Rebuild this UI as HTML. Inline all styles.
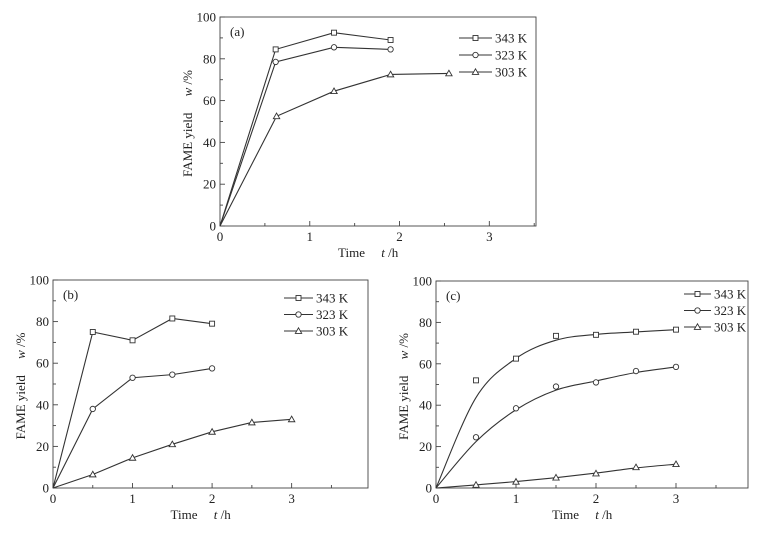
<!DOCTYPE html>
<html><head><meta charset="utf-8">
<style>
html,body{margin:0;padding:0;background:#fff;}
svg text{font-family:"Liberation Serif",serif;font-size:13px;fill:#222;}
</style></head>
<body>
<svg id="fig" width="768" height="532" viewBox="0 0 768 532" xmlns="http://www.w3.org/2000/svg"></svg>
<script>
const seriesLabels = ["343 K","323 K","303 K"];
const aX343 = [0,0.62,1.27,1.9];
const aY343 = [0,84.5,92.5,89];
const aX323 = [0,0.62,1.27,1.9];
const aY323 = [0,78.5,85.5,84.5];
const aX303 = [0,0.63,1.27,1.9,2.55];
const aY303 = [0,52.5,64.5,72.5,73];
const bX343 = [0,0.5,1,1.5,2];
const bY343 = [0,75,71,81.5,79];
const bX323 = [0,0.5,1,1.5,2];
const bY323 = [0,38,53,54.5,57.5];
const bX303 = [0,0.5,1,1.5,2,2.5,3];
const bY303 = [0,6.5,14.5,21,27,31.5,33];
const cX = [0,0.5,1,1.5,2,2.5,3];
const cY343 = [0,52,62.5,73.5,74,75.5,76.5];
const cY323 = [0,24.5,38.5,49,51,56.5,58.5];
const cY303 = [0,1.5,3,5,7,10,11.5];
const xTicks = [0,1,2,3];
const yTicks = [0,20,40,60,80,100];

const NS="http://www.w3.org/2000/svg";
const svg=document.getElementById('fig');
function mk(tag,attrs,parent){const e=document.createElementNS(NS,tag);for(const k in attrs)e.setAttribute(k,attrs[k]);(parent||svg).appendChild(e);return e;}

function marker(g,kind,x,y){
  let m;
  if(kind===0) m=mk('rect',{x:x-2.5,y:y-2.5,width:5,height:5,fill:'#fff',stroke:'#333','stroke-width':0.9},g);
  else if(kind===1) m=mk('circle',{cx:x,cy:y,r:2.7,fill:'#fff',stroke:'#333','stroke-width':0.9},g);
  else m=mk('polygon',{points:`${x},${y-3.2} ${x+3.2},${y+2.4} ${x-3.2},${y+2.4}`,fill:'#fff',stroke:'#333','stroke-width':0.9},g);
  
  
}

function smoothPath(pts){
  let d=`M${pts[0][0]},${pts[0][1]}`;
  for(let i=0;i<pts.length-1;i++){
    const p0=pts[Math.max(0,i-1)],p1=pts[i],p2=pts[i+1],p3=pts[Math.min(pts.length-1,i+2)];
    const c1=[p1[0]+(p2[0]-p0[0])/6,p1[1]+(p2[1]-p0[1])/6];
    const c2=[p2[0]-(p3[0]-p1[0])/6,p2[1]-(p3[1]-p1[1])/6];
    d+=` C${c1[0]},${c1[1]} ${c2[0]},${c2[1]} ${p2[0]},${p2[1]}`;
  }
  return d;
}
function fitSmooth(ys){
  return ys.map((v,i)=> (i===0||i===ys.length-1)? v : 0.2*ys[i-1]+0.6*v+0.2*ys[i+1]);
}

function panel(cfg){
  const g=mk('g',{});
  
  
  const {L,R,T,B,xmax}=cfg;
  const sx=v=>L+(R-L)*v/xmax, sy=v=>B-(B-T)*v/100;
  const frame=mk('rect',{x:L,y:T,width:R-L,height:B-T,fill:'none',stroke:'#444','stroke-width':0.9},g);
  
  
  for(let v=0;v<=xmax+1e-6;v+=0.5){
    const x=sx(v), major=Math.abs(v-Math.round(v))<1e-6;
    mk('line',{x1:x,y1:B,x2:x,y2:B-(major?5:3),stroke:'#444','stroke-width':0.9},g);
  }
  for(let v=0;v<=100;v+=10){
    const y=sy(v), major=v%20===0;
    mk('line',{x1:L,y1:y,x2:L+(major?5:3),y2:y,stroke:'#444','stroke-width':0.9},g);
  }
  xTicks.forEach(v=>{const t=mk('text',{x:sx(v),y:B+15,'text-anchor':'middle'},g);t.textContent=v;
    });
  yTicks.forEach(v=>{const t=mk('text',{x:L-4,y:sy(v)+4.5,'text-anchor':'end'},g);t.textContent=v;
    });
  const xt=mk('text',{x:(L+R)/2-40,y:B+31},g);
  xt.innerHTML='Time&#160;&#160;&#160;&#160;&#160;<tspan font-style="italic">t</tspan> /h';
  
  const yt=mk('text',{x:0,y:0,transform:`translate(${L-28},${(T+B)/2+2}) rotate(-90)`,'text-anchor':'middle','font-size':'14'},g);
  yt.innerHTML='FAME yield&#160;&#160;&#160;&#160;&#160;<tspan font-style="italic">w</tspan> /%';
  
  const pl=mk('text',{x:L+10,y:T+19},g);pl.textContent='('+cfg.id+')';
  
  cfg.series.forEach((s,k)=>{
    const pts=s.x.map((xv,i)=>[sx(xv),sy(s.y[i])]);
    let p;
    if(cfg.smooth){
      const fy=fitSmooth(s.y);
      const fp=s.x.map((xv,i)=>[sx(xv),sy(fy[i])]);
      p=mk('path',{d:smoothPath(fp),fill:'none',stroke:'#333','stroke-width':1.1},g);
    } else p=mk('polyline',{points:pts.map(q=>q.join(',')).join(' '),fill:'none',stroke:'#333','stroke-width':1.1},g);
    
    
    pts.forEach((q,i)=>{ if(i>0) marker(g,k,q[0],q[1]); });
    const ly=cfg.legY+k*cfg.legDY;
    const ll=mk('line',{x1:cfg.legX1,y1:ly,x2:cfg.legX2,y2:ly,stroke:'#333','stroke-width':1.1},g);
    
    marker(g,k,(cfg.legX1+cfg.legX2)/2,ly);
    const lt=mk('text',{x:cfg.legX2+3,y:ly+4.5},g);lt.textContent=seriesLabels[k];
    
  });
}

panel({id:'a',L:220,R:536,T:17,B:226,xmax:3.52,smooth:false,legX1:459,legX2:492,legY:38,legDY:17,
  series:[{x:aX343,y:aY343},{x:aX323,y:aY323},{x:aX303,y:aY303}]});
panel({id:'b',L:53,R:368,T:280,B:488,xmax:3.96,smooth:false,legX1:284,legX2:313,legY:298,legDY:16.5,
  series:[{x:bX343,y:bY343},{x:bX323,y:bY323},{x:bX303,y:bY303}]});
panel({id:'c',L:436,R:748,T:281,B:488,xmax:3.9,smooth:true,legX1:684,legX2:711,legY:294,legDY:16.5,
  series:[{x:cX,y:cY343},{x:cX,y:cY323},{x:cX,y:cY303}]});
</script>
</body></html>
